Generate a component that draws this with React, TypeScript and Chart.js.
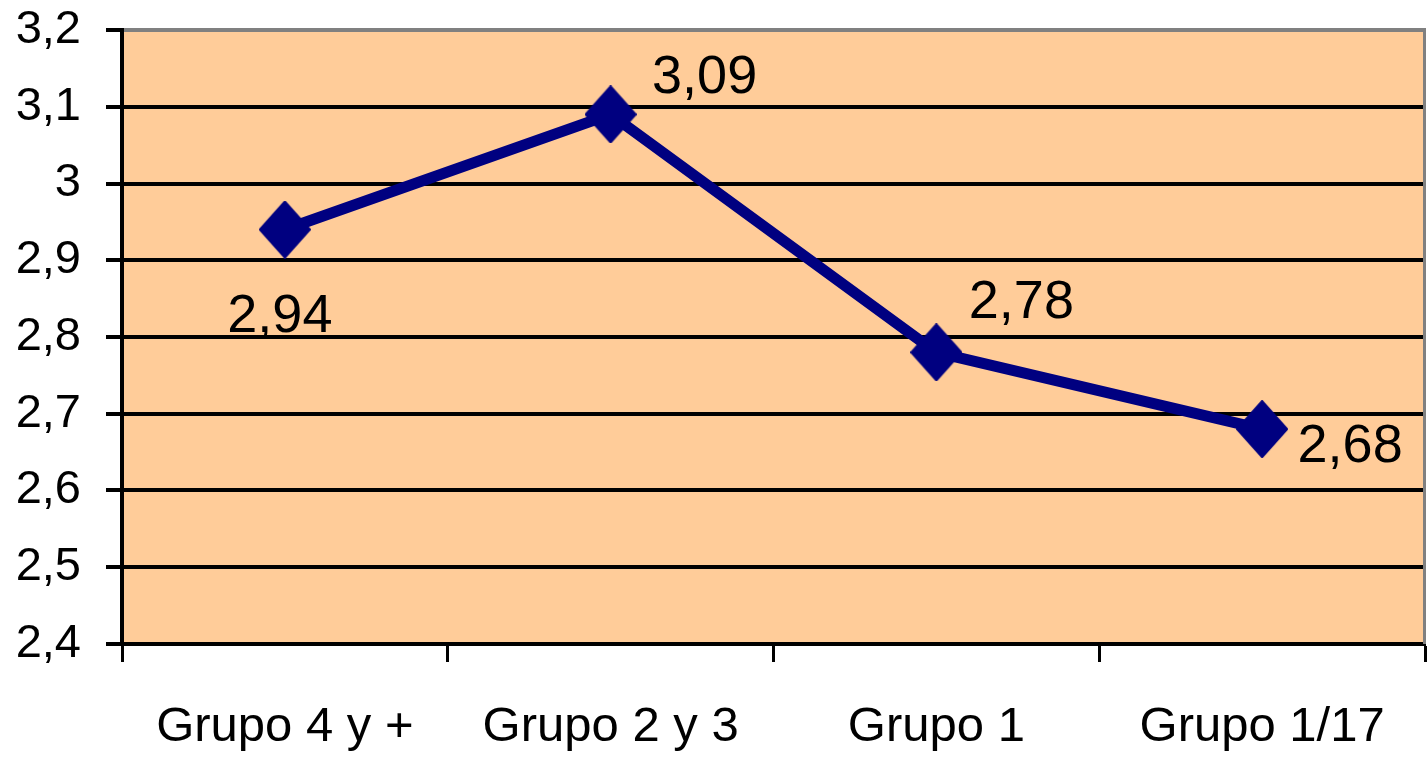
import React, { useEffect, useRef } from "react";
import { Chart, registerables } from "chart.js";

Chart.register(...registerables);

const categories = ["Grupo 4 y +", "Grupo 2 y 3", "Grupo 1", "Grupo 1/17"];
const seriesValues = [2.94, 3.09, 2.78, 2.68];
const valueLabels = ["2,94", "3,09", "2,78", "2,68"];
const yTickLabels = ["2,4", "2,5", "2,6", "2,7", "2,8", "2,9", "3", "3,1", "3,2"];
const Y_MIN = 2.4;
const Y_MAX = 3.2;
const Y_STEP = 0.1;

// label placement offsets (style, px) relative to each point: [dx of text centre, dy of baseline]
const labelOffsets: [number, number][] = [
  [-5, 102],
  [94, -21],
  [85, -34],
  [88, 33],
];

const FONT = '"Liberation Sans", Arial, sans-serif';
const NAVY = "#000080";

function makeDiamond(): HTMLCanvasElement {
  const c = document.createElement("canvas");
  const w = 52;
  const h = 58;
  c.width = w;
  c.height = h;
  const ctx = c.getContext("2d")!;
  ctx.fillStyle = NAVY;
  ctx.strokeStyle = NAVY;
  ctx.lineJoin = "round";
  ctx.lineWidth = 2;
  ctx.beginPath();
  ctx.moveTo(w / 2, 1);
  ctx.lineTo(w - 1, h / 2);
  ctx.lineTo(w / 2, h - 1);
  ctx.lineTo(1, h / 2);
  ctx.closePath();
  ctx.fill();
  ctx.stroke();
  return c;
}

const plotDecor = {
  id: "plotDecor",
  beforeDraw(chart: any) {
    const { ctx, chartArea } = chart;
    ctx.save();
    ctx.fillStyle = "#FFCC99";
    ctx.fillRect(chartArea.left, chartArea.top, chartArea.right - chartArea.left, chartArea.bottom - chartArea.top);
    ctx.restore();
  },
  afterDraw(chart: any) {
    const { ctx, chartArea } = chart;
    ctx.save();
    ctx.strokeStyle = "#808080";
    ctx.lineWidth = 3;
    ctx.beginPath();
    ctx.moveTo(chartArea.right - 0.5, chartArea.top - 2);
    ctx.lineTo(chartArea.right - 0.5, chartArea.bottom);
    ctx.stroke();
    ctx.restore();
  },
};

const valueLabelPlugin = {
  id: "valueLabels",
  afterDatasetsDraw(chart: any) {
    const { ctx } = chart;
    const meta = chart.getDatasetMeta(0);
    ctx.save();
    ctx.font = `54px ${FONT}`;
    ctx.fillStyle = "#000000";
    ctx.textAlign = "center";
    ctx.textBaseline = "alphabetic";
    meta.data.forEach((pt: any, i: number) => {
      const [dx, dy] = labelOffsets[i];
      ctx.fillText(valueLabels[i], pt.x + dx, pt.y + dy);
    });
    ctx.restore();
  },
};

function zeroPadding(scale: any) {
  scale.paddingTop = 0;
  scale.paddingBottom = 0;
  scale.paddingLeft = 0;
  scale.paddingRight = 0;
}

export default function App() {
  const canvasRef = useRef<HTMLCanvasElement | null>(null);

  useEffect(() => {
    document.body.style.margin = "0";
    const canvas = canvasRef.current!;
    const diamond = makeDiamond();
    const chart = new Chart(canvas, {
      type: "line",
      data: {
        labels: categories,
        datasets: [
          {
            data: seriesValues,
            borderColor: NAVY,
            backgroundColor: NAVY,
            borderWidth: 11,
            tension: 0,
            pointStyle: diamond as any,
            pointRadius: 26,
            pointHoverRadius: 26,
            fill: false,
            clip: false as any,
          },
        ],
      },
      options: {
        animation: false,
        responsive: true,
        maintainAspectRatio: false,
        events: [],
        layout: { autoPadding: false, padding: { top: 30, right: 2, left: 0, bottom: 0 } },
        plugins: {
          legend: { display: false },
          tooltip: { enabled: false },
          title: { display: false },
        },
        scales: {
          x: {
            type: "category",
            offset: true,
            grid: {
              offset: true,
              display: true,
              drawOnChartArea: false,
              drawTicks: true,
              tickLength: 18,
              tickColor: "#000000",
              tickWidth: 3,
            },
            border: { display: true, color: "#000000", width: 4 },
            ticks: {
              color: "#000000",
              font: { family: FONT, size: 49 },
              padding: 36,
              maxRotation: 0,
              minRotation: 0,
              autoSkip: false,
            },
            afterFit(scale: any) {
              scale.height = 114;
              zeroPadding(scale);
            },
          },
          y: {
            type: "linear",
            min: Y_MIN,
            max: Y_MAX,
            grid: {
              color: (ctx: any) =>
                ctx.tick && Math.abs(ctx.tick.value - Y_MAX) < 1e-6 ? "#808080" : "#000000",
              lineWidth: 4,
              drawTicks: true,
              tickLength: 16,
              tickColor: "#000000",
              tickWidth: 4,
            },
            border: { display: true, color: "#000000", width: 4 },
            ticks: {
              stepSize: Y_STEP,
              color: "#000000",
              font: { family: FONT, size: 47 },
              padding: 25,
              callback: (_v: any, i: number) => yTickLabels[i],
            },
            afterFit(scale: any) {
              scale.width = 122;
              zeroPadding(scale);
            },
          },
        },
      },
      plugins: [plotDecor, valueLabelPlugin],
    });
    return () => chart.destroy();
  }, []);

  return (
    <div style={{ position: "relative", width: "1427px", height: "758px" }}>
      <canvas ref={canvasRef} />
    </div>
  );
}
